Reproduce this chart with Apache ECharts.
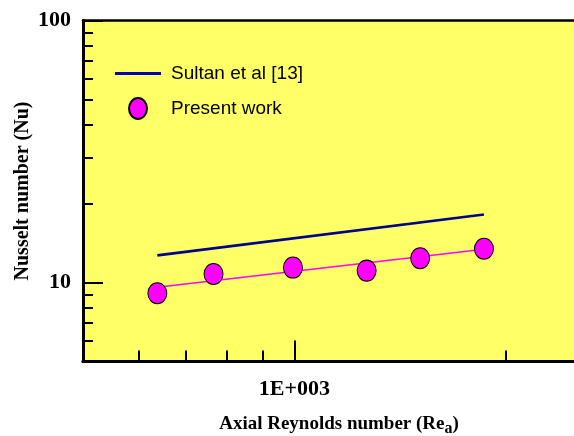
<!DOCTYPE html>
<html>
<head>
<meta charset="utf-8">
<script src="https://cdn.jsdelivr.net/npm/echarts@6/dist/echarts.min.js"></script>
<style>
  html, body { margin: 0; padding: 0; background: #ffffff; }
  #chart { width: 574px; height: 436px; }
</style>
</head>
<body>
<div id="chart"></div>
<script>
// Axial Reynolds number of each measurement
const reynolds = [638, 767, 995, 1267, 1510, 1861];
// Measured Nusselt numbers (present work)
const nusselt = [9.11, 10.79, 11.41, 11.11, 12.38, 13.47];
// Power-law fit through the measurements (end points)
const fitRe = [638, 1861];
const fitNu = [9.6, 13.4];
// Correlation of Sultan et al [13] (end points)
const sultanRe = [638, 1861];
const sultanNu = [12.7, 18.2];

// Axis ticks and labels
const xMajorTicks = [1000];
const xMinorTicks = [600, 700, 800, 900, 2000];
const yMajorTicks = [10, 100];
const yMinorTicks = [6, 7, 8, 9, 20, 30, 40, 50, 60, 70, 80, 90];
const xLabelText = { 1000: '1E+003' };

const ellipse = 'path://M0,10.5 A9,10.5 0 1 1 18,10.5 A9,10.5 0 1 1 0,10.5 Z';
const serifBold = { fontFamily: 'Liberation Serif', fontWeight: 'bold', color: '#000' };

const chart = echarts.init(document.getElementById('chart'), null, { renderer: 'canvas' });

const baseX = {
  type: 'log', logBase: 10, min: 500, max: 2500, position: 'bottom',
  axisLine: { show: true, onZero: false, lineStyle: { color: '#000', width: 3 } },
  splitLine: { show: false }, minorTick: { show: false }
};
const baseY = {
  type: 'log', logBase: 10, min: 5, max: 100, position: 'left',
  axisLine: { show: true, onZero: false, lineStyle: { color: '#000', width: 3 } },
  splitLine: { show: false }, minorTick: { show: false }
};

chart.setOption({
  animation: false,
  backgroundColor: '#ffffff',
  grid: {
    left: 83, top: 20.5, right: 0, bottom: 74.5,
    show: true, backgroundColor: '#FFFF66', borderWidth: 0
  },
  xAxis: [
    Object.assign({}, baseX, {
      axisTick: { show: true, inside: true, length: 21, customValues: xMajorTicks,
                  lineStyle: { color: '#000', width: 2 } },
      axisLabel: { show: true, customValues: xMajorTicks, margin: 17,
                   formatter: v => xLabelText[Math.round(v)] || '',
                   fontSize: 22, ...serifBold }
    }),
    Object.assign({}, baseX, {
      axisTick: { show: true, inside: true, length: 11, customValues: xMinorTicks,
                  lineStyle: { color: '#000', width: 2 } },
      axisLabel: { show: false }
    }),
    Object.assign({}, baseX, {
      position: 'top',
      axisLine: { show: true, onZero: false, lineStyle: { color: '#000', width: 2.5 } },
      axisTick: { show: false },
      axisLabel: { show: false }
    })
  ],
  yAxis: [
    Object.assign({}, baseY, {
      axisTick: { show: true, inside: true, length: 20, customValues: yMajorTicks,
                  lineStyle: { color: '#000', width: 2 } },
      axisLabel: { show: true, customValues: yMajorTicks, margin: 12,
                   formatter: v => String(Math.round(v)),
                   fontSize: 22, ...serifBold }
    }),
    Object.assign({}, baseY, {
      axisTick: { show: true, inside: true, length: 10, customValues: yMinorTicks,
                  lineStyle: { color: '#000', width: 2 } },
      axisLabel: { show: false }
    })
  ],
  legend: [
    {
      left: 115, top: 64, padding: 0, itemWidth: 46, itemHeight: 3,
      data: [{ name: 'Sultan et al [13]', icon: 'rect' }],
      textStyle: { fontFamily: 'Liberation Sans', fontSize: 19, color: '#000', padding: [0, 0, 0, 5] }
    },
    {
      left: 128, top: 97, padding: 0, itemWidth: 18, itemHeight: 21,
      data: [{ name: 'Present work', icon: ellipse }],
      textStyle: { fontFamily: 'Liberation Sans', fontSize: 19, color: '#000', padding: [0, 0, 0, 19] }
    }
  ],
  series: [
    {
      name: 'Sultan et al [13]', type: 'line', xAxisIndex: 0, yAxisIndex: 0,
      data: sultanRe.map((r, i) => [r, sultanNu[i]]),
      showSymbol: false, symbol: 'none', color: '#0000C0',
      lineStyle: { color: '#00008C', width: 2.6 }, z: 3
    },
    {
      name: 'fit', type: 'line', xAxisIndex: 0, yAxisIndex: 0,
      data: fitRe.map((r, i) => [r, fitNu[i]]),
      showSymbol: false, symbol: 'none',
      lineStyle: { color: '#FF00FF', width: 1.6 }, z: 3
    },
    {
      name: 'Present work', type: 'scatter', xAxisIndex: 0, yAxisIndex: 0,
      data: reynolds.map((r, i) => [r, nusselt[i]]),
      symbol: ellipse, symbolSize: [19, 21],
      itemStyle: { color: '#FF00FF', borderColor: '#000', borderWidth: 1, opacity: 1 },
      z: 4
    }
  ],
  graphic: [
    {
      type: 'text', x: 339, y: 424,
      style: {
        text: '{m|Axial Reynolds number (Re}{s|a}{m|)}',
        align: 'center', verticalAlign: 'middle',
        rich: {
          m: { fontFamily: 'Liberation Serif', fontWeight: 'bold', fontSize: 19, fill: '#000' },
          s: { fontFamily: 'Liberation Serif', fontWeight: 'bold', fontSize: 16, fill: '#000',
               padding: [9, 0, 0, 0] }
        }
      }
    },
    {
      type: 'text', x: 23, y: 191, rotation: Math.PI / 2,
      style: {
        text: 'Nusselt number (Nu)', align: 'center', verticalAlign: 'middle',
        fontFamily: 'Liberation Serif', fontWeight: 'bold', fontSize: 20, fill: '#000'
      }
    }
  ]
});
</script>
</body>
</html>
